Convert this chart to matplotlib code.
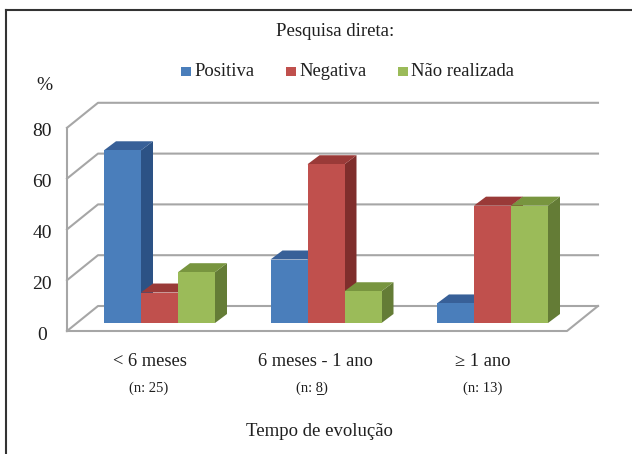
import matplotlib
matplotlib.use("Agg")
import matplotlib.pyplot as plt
from matplotlib.lines import Line2D
from matplotlib.patches import Polygon, Rectangle

categories = ["< 6 meses", "6 meses - 1 ano", "\u2265 1 ano"]
n_labels = ["(n: 25)", "(n: 8)", "(n: 13)"]
series_names = ["Positiva", "Negativa", "N\u00e3o realizada"]
positiva = [68, 25, 7.7]
negativa = [12, 62.5, 46.2]
nao_realizada = [20, 12.5, 46.2]
yticks = [0, 20, 40, 60, 80]

front_colors = ["#4a7ebb", "#c0504d", "#9bbb59"]
top_colors = ["#386098", "#9a3a38", "#78953f"]
side_colors = ["#2c5285", "#7f2e2c", "#647c36"]

W, H = 632, 454
# pixel positions of the chart, used only to set up the scales
px_per_cat = 166.5
px_per_unit = 2.54
cat0_px = 159.5
zero_py = 331

plt.rcParams['font.family'] = ['Liberation Serif', 'DejaVu Serif']
fig = plt.figure(figsize=(W / 100, H / 100), dpi=100)
ax = fig.add_axes([0, 0, 1, 1])
ax.set_xlim(-cat0_px / px_per_cat, (W - cat0_px) / px_per_cat)
ax.set_ylim((zero_py - H) / px_per_unit, zero_py / px_per_unit)
ax.axis('off')

# chart "depth" in data units
wall_dx = 31 / px_per_cat
wall_dy = 25 / px_per_unit
floor_left = -92.5 / px_per_cat
floor_right = 407.5 / px_per_cat
bar_w = 37 / px_per_cat
bar_dx = 12 / px_per_cat
bar_dy = 9 / px_per_unit
bar_base = 8 / px_per_unit

grid_c = "#a6a6a6"
# walls and gridlines
for t in yticks:
    ax.plot([floor_left, floor_left + wall_dx, floor_right + wall_dx],
            [t, t + wall_dy, t + wall_dy], color=grid_c, lw=1.5, zorder=1)
ax.plot([floor_left, floor_left], [0, 80], color=grid_c, lw=1.5, zorder=1)
ax.plot([floor_left, floor_right, floor_right + wall_dx],
        [0, 0, wall_dy], color=grid_c, lw=1.5, zorder=1)

# bars, left to right so that each one covers the side of the one before
all_values = [positiva, negativa, nao_realizada]
for c in range(len(categories)):
    for s, vals in enumerate(all_values):
        v = vals[c]
        x0 = c + (s - 1.5) * bar_w
        x1 = x0 + bar_w
        top = bar_base + v
        ax.add_patch(Polygon([(x1, bar_base), (x1 + bar_dx, bar_base + bar_dy),
                              (x1 + bar_dx, top + bar_dy), (x1, top)],
                             fc=side_colors[s], ec='none', zorder=3))
        ax.add_patch(Polygon([(x0, top), (x0 + bar_dx, top + bar_dy),
                              (x1 + bar_dx, top + bar_dy), (x1, top)],
                             fc=top_colors[s], ec='none', zorder=3))
        ax.add_patch(Rectangle((x0, bar_base), bar_w, v, fc=front_colors[s],
                               ec='none', zorder=3))

# tick labels
text_c = "#1f1f1f"
for t in yticks:
    ax.text(floor_left - 0.15, t - 4 / px_per_unit, str(t), ha='center', va='center',
            fontsize=14, color=text_c)

cat_px = [149.5, 315.5, 483]
n_px = [148.5, 312, 483]
for c in range(len(categories)):
    fig.text(cat_px[c] / W, 1 - 361 / H, categories[c],
             ha='center', va='center', fontsize=13.3, color=text_c)
    fig.text(n_px[c] / W, 1 - 388 / H, n_labels[c],
             ha='center', va='center', fontsize=10.5, color=text_c)
# the 8 of (n: 8) is underlined in the original
fig.add_artist(Line2D([317 / W, 322.5 / W], [1 - 394 / H] * 2, color=text_c, lw=0.7))

fig.text(335 / W, 1 - 31 / H, "Pesquisa direta:", ha='center', va='center',
         fontsize=13.5, color=text_c)
fig.text(319 / W, 1 - 432 / H, "Tempo de evolu\u00e7\u00e3o", ha='center', va='center',
         fontsize=13.5, color=text_c)
fig.text(44 / W, 1 - 86 / H, "%", ha='center', va='center', fontsize=14, color=text_c)

# legend
legend_sq = [181, 286, 398]
legend_txt = [194, 299, 411]
for s, name in enumerate(series_names):
    fig.patches.append(Rectangle((legend_sq[s] / W, 1 - 76 / H), 10 / W, 9 / H,
                                 transform=fig.transFigure, fc=front_colors[s], ec='none'))
    fig.text(legend_txt[s] / W, 1 - 71 / H, name, ha='left', va='center',
             fontsize=13.4, color=text_c)

# outer frame
fig.add_artist(Line2D([6 / W, 6 / W], [0, 1 - 10 / H], color="#333333", lw=1.5))
fig.add_artist(Line2D([6 / W, 1], [1 - 10 / H, 1 - 10 / H], color="#333333", lw=1.5))

fig.savefig("out.png", dpi=100)
